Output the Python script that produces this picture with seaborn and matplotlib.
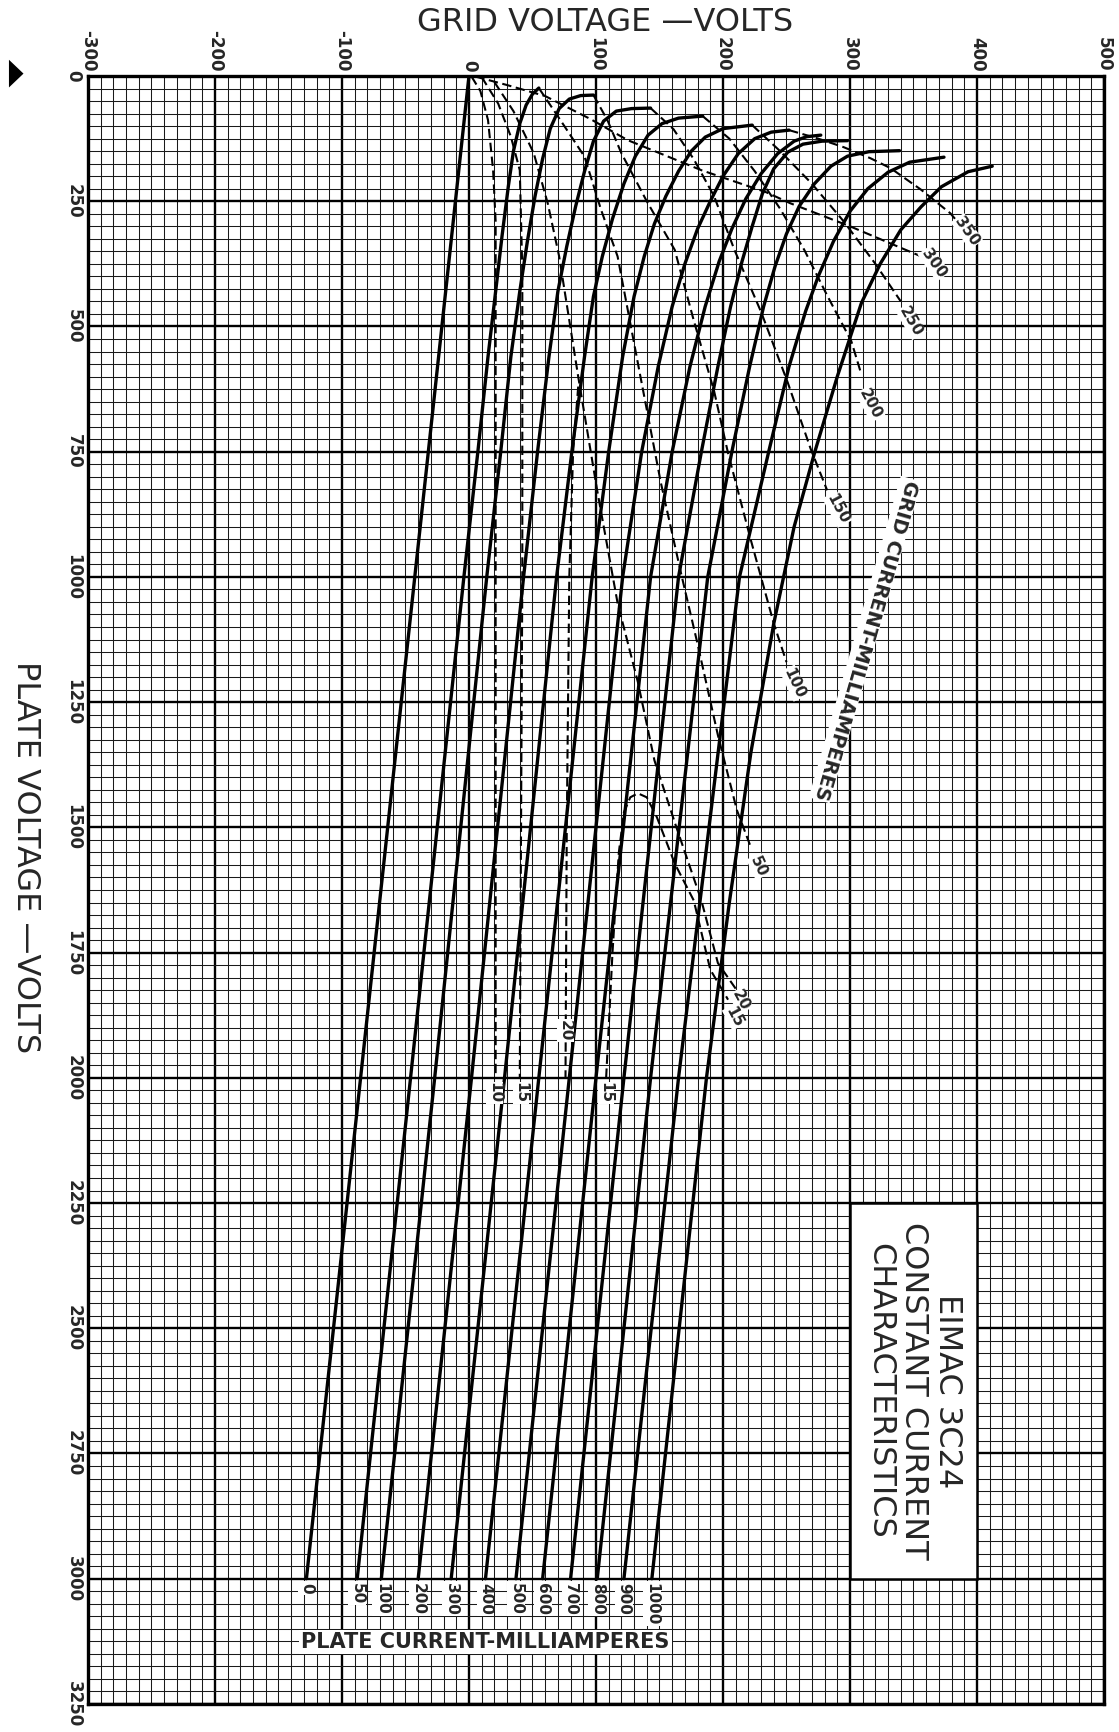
import matplotlib
matplotlib.use("Agg")
import matplotlib.pyplot as plt
import numpy as np
import pandas as pd
import seaborn as sns
from matplotlib.patches import Rectangle, Polygon

# ---- axis ticks ---------------------------------------------------------
GRID_TICKS = [-300, -200, -100, 0, 100, 200, 300, 400, 500]
PLATE_TICKS = [0, 250, 500, 750, 1000, 1250, 1500, 1750, 2000, 2250,
               2500, 2750, 3000, 3250]

# ---- constant plate current curves: (grid volts, plate volts) -----------
ip_0 = [(-128, 3000), (-64, 1500), (0, 0)]
ip_50 = [(-88, 3000), (-46, 2000), (-4, 1000), (7, 750), (15, 560),
         (21, 430), (26, 320), (31, 220), (35, 150), (40, 95), (45, 58),
         (50, 36), (55, 24)]
ip_100 = [(-69, 3000), (-27, 2000), (14, 1000), (25, 750), (33, 560),
          (40, 430), (46, 330), (52, 240), (58, 165), (64, 105), (71, 65),
          (79, 46), (88, 39), (98, 38)]
ip_200 = [(-40, 3000), (2, 2000), (43, 1000), (54, 750), (63, 560),
          (70, 430), (77, 340), (84, 260), (91, 190), (98, 130), (106, 90),
          (116, 70), (128, 65), (143, 64)]
ip_300 = [(-14, 3000), (28, 2000), (69, 1000), (81, 750), (91, 560),
          (98, 440), (105, 360), (113, 285), (122, 215), (131, 160),
          (141, 118), (152, 95), (165, 84), (184, 80)]
ip_400 = [(13, 3000), (55, 2000), (97, 1000), (110, 750), (121, 560),
          (130, 440), (138, 360), (146, 295), (155, 240), (165, 190),
          (175, 150), (186, 122), (200, 105), (223, 98)]
ip_500 = [(37, 3000), (79, 2000), (121, 1000), (136, 750), (149, 580),
          (160, 460), (170, 375), (180, 305), (190, 250), (200, 200),
          (212, 155), (225, 125), (238, 112), (252, 108)]
ip_600 = [(58, 3000), (100, 2000), (143, 1000), (160, 750), (174, 580),
          (186, 460), (197, 370), (207, 305), (218, 245), (230, 195),
          (243, 155), (256, 130), (266, 121), (277, 118)]
ip_700 = [(80, 3000), (122, 2000), (165, 1000), (183, 750), (196, 580),
          (206, 460), (215, 370), (223, 300), (231, 235), (240, 185),
          (251, 152), (263, 136), (278, 130), (298, 129)]
ip_800 = [(101, 3000), (143, 2000), (188, 1000), (207, 750), (221, 580),
          (232, 460), (241, 380), (250, 315), (260, 260), (272, 215),
          (285, 180), (298, 160), (315, 151), (339, 149)]
ip_900 = [(122, 3000), (165, 2000), (213, 1000), (236, 750), (252, 580),
          (265, 470), (275, 400), (287, 330), (300, 270), (314, 225),
          (330, 192), (347, 172), (374, 162)]
ip_1000 = [(144, 3000), (187, 2000), (205, 1650), (222, 1350),
           (240, 1093), (256, 900), (272, 753), (290, 600), (309, 453),
           (324, 374), (340, 307), (356, 261), (372, 221), (393, 191),
           (412, 180)]

IP_LABELS = ["0", "50", "100", "200", "300", "400", "500", "600", "700",
             "800", "900", "1000"]
IP_CURVES = [ip_0, ip_50, ip_100, ip_200, ip_300, ip_400, ip_500, ip_600,
             ip_700, ip_800, ip_900, ip_1000]

# ---- constant grid current curves ---------------------------------------
gc_10 = [(2, 1), (9, 30), (15, 88), (19, 188), (21, 290), (21, 600),
         (21, 1200), (21, 2000)]
gc_15 = [(10, 2), (23, 55), (33, 121), (40, 188), (42, 390), (42, 1000),
         (41, 1500), (40, 2000)]
gc_20 = [(20, 12), (35, 70), (51, 154), (62, 254), (71, 360), (86, 600),
         (101, 828), (117, 1052), (133, 1210), (146, 1366), (162, 1490),
         (183, 1646), (196, 1771), (210, 1822)]
gc_20v = [(86, 620), (82, 750), (79, 1000), (77, 1500), (76, 2000)]
gc_15b = [(108, 2000), (113, 1750), (118, 1550), (122, 1470), (127, 1440),
          (133, 1432), (140, 1440), (148, 1480), (162, 1572), (177, 1646),
          (190, 1784), (204, 1844)]
gc_50 = [(55, 24), (72, 88), (91, 161), (104, 267), (117, 360), (135, 600),
         (151, 811), (167, 993), (180, 1134), (196, 1316), (211, 1466),
         (222, 1540)]
gc_100 = [(98, 38), (109, 88), (120, 154), (140, 250), (162, 347),
          (177, 488), (193, 629), (204, 753), (222, 927), (240, 1093),
          (250, 1170)]
gc_150 = [(143, 64), (161, 106), (177, 166), (193, 240), (209, 347),
          (230, 471), (251, 612), (269, 744), (282, 827)]
gc_200 = [(184, 80), (205, 125), (225, 190), (245, 265), (264, 347),
          (282, 438), (301, 529), (309, 596)]
gc_250 = [(223, 98), (245, 150), (270, 215), (295, 290), (320, 375),
          (340, 450)]
gc_300 = [(5, 1), (30, 18), (60, 40), (95, 85), (125, 128), (183, 188),
          (234, 232), (253, 254), (300, 300), (341, 344), (356, 360)]
gc_350 = [(252, 108), (275, 125), (295, 142), (316, 164), (332, 184),
          (356, 227), (379, 274), (386, 295)]

GC_CURVES = [gc_10, gc_15, gc_20, gc_20v, gc_15b, gc_50, gc_100, gc_150,
             gc_200, gc_250, gc_300, gc_350]
GC_NAMES = ["10", "15", "20", "20v", "15b", "50", "100", "150", "200",
            "250", "300", "350"]

# curve end labels: (text, grid, plate, rotation)
GC_END_LABELS = [("350", 392, 310, -55), ("300", 366, 374, -55),
                 ("250", 348, 490, -60), ("200", 316, 655, -62),
                 ("150", 290, 865, -62), ("100", 256, 1212, -65),
                 ("50", 228, 1578, -65), ("20", 214, 1846, -62),
                 ("15", 209, 1878, -62)]
GC_FOOT_LABELS = [("10", 20, 2030), ("15", 41, 2030), ("20", 76, 1905),
                  ("15", 108, 2030)]


def to_frame(curves, names):
    rows = []
    for name, pts in zip(names, curves):
        for i, (g, p) in enumerate(pts):
            rows.append({"curve": name, "order": i, "grid": g, "plate": p})
    return pd.DataFrame(rows)


sns.set_style("white")
plt.rcParams["font.family"] = ["DejaVu Sans"]

fig = plt.figure(figsize=(11.19, 17.32), dpi=100)
ax = fig.add_axes([0.0786, 0.0162, 0.908, 0.9399])

# graph paper
ax.set_xlim(-300, 500)
ax.set_ylim(3250, 0)
ax.set_xticks(GRID_TICKS)
ax.set_yticks(PLATE_TICKS)
ax.set_xticks(np.arange(-300, 501, 10), minor=True)
ax.set_yticks(np.arange(0, 3251, 25), minor=True)
ax.grid(which="minor", color="#1a1a1a", lw=0.75)
ax.grid(which="major", color="black", lw=1.7)
ax.set_axisbelow(True)
for s in ax.spines.values():
    s.set_linewidth(2.4)
    s.set_color("black")

ax.xaxis.tick_top()
ax.set_xticklabels([str(t) for t in GRID_TICKS], rotation=-90,
                   fontsize=12, fontweight="bold")
ax.set_yticklabels([str(t) for t in PLATE_TICKS], rotation=-90,
                   fontsize=12, fontweight="bold", va="center")
ax.tick_params(which="both", length=0)
ax.tick_params(axis="x", pad=3)
ax.tick_params(axis="y", pad=4)

# plate current curves (solid)
df_ip = to_frame(IP_CURVES, IP_LABELS)
sns.lineplot(data=df_ip, x="grid", y="plate", units="curve",
             estimator=None, sort=False, color="black", lw=2.4,
             legend=False, ax=ax)
n_solid = len(ax.lines)

# grid current curves (dashed)
df_gc = to_frame(GC_CURVES, GC_NAMES)
sns.lineplot(data=df_gc, x="grid", y="plate", units="curve",
             estimator=None, sort=False, color="black", lw=1.5,
             legend=False, ax=ax)
for ln in ax.lines[n_solid:]:
    ln.set_dashes((4.5, 2.2))

ax.set_xlim(-300, 500)
ax.set_ylim(3250, 0)
ax.set_xlabel("")
ax.set_ylabel("")

# labels at the foot of the plate current lines
for lab, pts in zip(IP_LABELS, IP_CURVES):
    g, p = pts[0]
    ax.text(g, p + 8, lab, rotation=-90, ha="center", va="top",
            fontsize=11, fontweight="bold",
            bbox=dict(fc="white", ec="none", pad=1.0))

for lab, g, p, rot in GC_END_LABELS:
    ax.text(g, p, lab, rotation=rot, ha="center", va="center",
            fontsize=11, fontweight="bold", rotation_mode="anchor",
            bbox=dict(fc="white", ec="none", pad=0.6))
for lab, g, p in GC_FOOT_LABELS:
    ax.text(g, p, lab, rotation=-90, ha="center", va="center",
            fontsize=11, fontweight="bold",
            bbox=dict(fc="white", ec="none", pad=0.6))

ax.text(13, 3126, "PLATE CURRENT-MILLIAMPERES", ha="center",
        va="center", fontsize=15, fontweight="bold",
        bbox=dict(fc="white", ec="none", pad=1.5))
ax.text(312, 1125, "GRID CURRENT-MILLIAMPERES", ha="center",
        va="center", fontsize=14, fontweight="bold", rotation=-106,
        rotation_mode="anchor",
        bbox=dict(fc="white", ec="none", pad=1.0))

# title box
ax.add_patch(Rectangle((300, 2250), 100, 750, fc="white", ec="black",
                       lw=1.8, zorder=5))
ax.text(350, 2625, "EIMAC 3C24\nCONSTANT CURRENT\nCHARACTERISTICS",
        rotation=-90, ha="center", va="center", fontsize=23,
        linespacing=1.12, multialignment="center", zorder=6)

# axis titles
fig.text(0.541, 0.987, "GRID VOLTAGE \u2014VOLTS", ha="center",
         va="center", fontsize=23)
fig.text(0.023, 0.505, "PLATE VOLTAGE \u2014VOLTS", ha="center",
         va="center", fontsize=23, rotation=-90)
fig.patches.append(Polygon([[0.008, 0.9655], [0.008, 0.9495],
                            [0.021, 0.9575]], closed=True,
                           transform=fig.transFigure, fc="black",
                           ec="none"))

fig.savefig("out.png", dpi=100)
